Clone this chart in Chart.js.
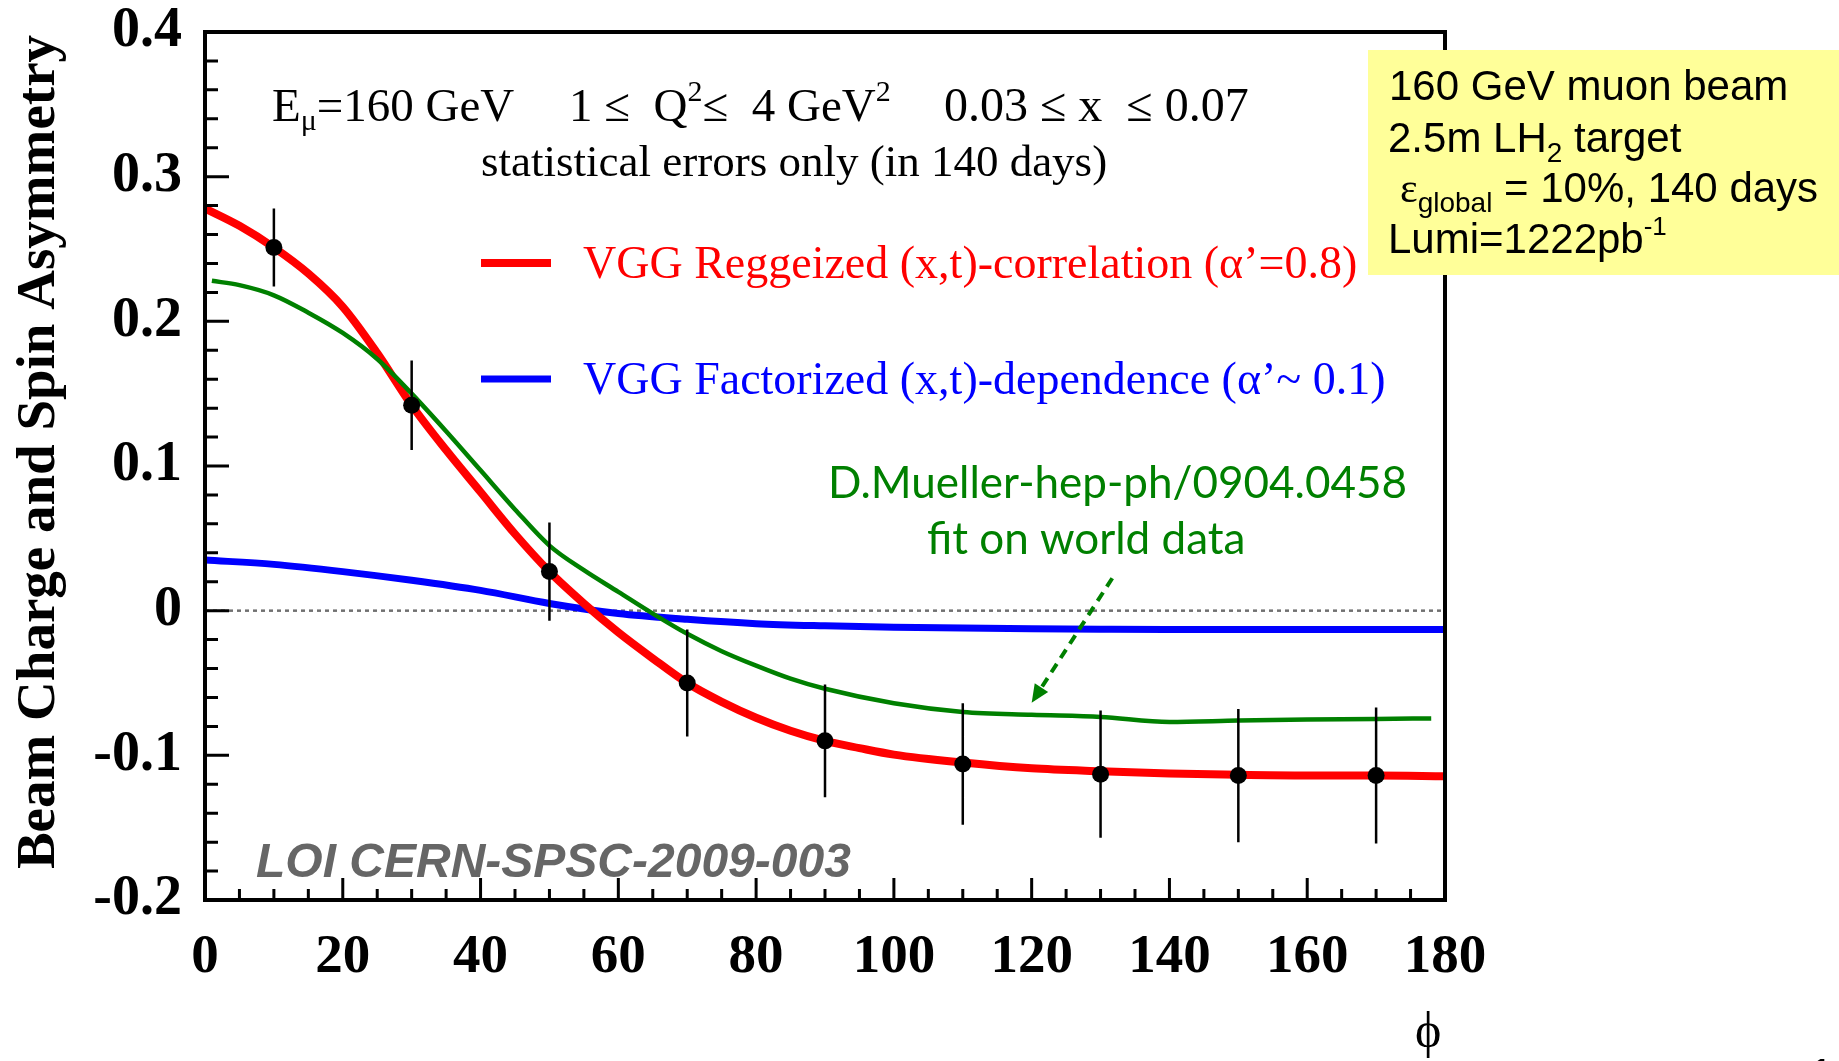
<!DOCTYPE html>
<html>
<head>
<meta charset="utf-8">
<title>Beam Charge and Spin Asymmetry</title>
<script src="https://cdn.jsdelivr.net/npm/chart.js@4.4.1/dist/chart.umd.min.js"></script>
<style>
  html, body { margin: 0; padding: 0; background: #fff; }
  #grafico { display: block; }
</style>
</head>
<body>
<canvas id="grafico" width="1839" height="1061"></canvas>
<script>
// Puntos simulados (errores estadisticos, 140 dias)
const phiPuntos = [10, 30, 50, 70, 90, 110, 130, 150, 170];
const asimPuntos = [0.251, 0.142, 0.027, -0.050, -0.090, -0.106, -0.113, -0.114, -0.114];
const errPuntos = [0.027, 0.031, 0.034, 0.037, 0.039, 0.042, 0.044, 0.046, 0.047];

// VGG Reggeized (x,t)-correlation (rojo)
const phiRegge = [0, 5, 10, 15, 20, 25, 30, 35, 40, 45, 50, 55, 60, 65, 70, 75, 80, 85, 90, 95, 100, 110, 120, 130, 140, 150, 160, 170, 180];
const asimRegge = [0.278, 0.266, 0.251, 0.233, 0.210, 0.178, 0.142, 0.111, 0.082, 0.053, 0.027, 0.005, -0.015, -0.033, -0.050, -0.063, -0.074, -0.083, -0.090, -0.095, -0.0995, -0.105, -0.109, -0.111, -0.1125, -0.1135, -0.114, -0.114, -0.1145];

// VGG Factorized (x,t)-dependence (azul)
const phiFact = [0, 10, 20, 30, 40, 50, 60, 70, 80, 90, 100, 110, 120, 130, 140, 150, 160, 170, 180];
const asimFact = [0.035, 0.032, 0.027, 0.021, 0.014, 0.005, -0.002, -0.006, -0.009, -0.0105, -0.0115, -0.012, -0.0125, -0.0128, -0.013, -0.013, -0.013, -0.013, -0.013];

// D.Mueller fit on world data (verde)
const phiMueller = [1, 5, 10, 15, 20, 25, 30, 35, 40, 45, 50, 55, 60, 65, 70, 75, 80, 85, 90, 100, 110, 120, 130, 140, 150, 160, 170, 178];
const asimMueller = [0.228, 0.225, 0.218, 0.206, 0.192, 0.174, 0.150, 0.124, 0.097, 0.070, 0.045, 0.028, 0.013, -0.002, -0.016, -0.028, -0.038, -0.047, -0.054, -0.064, -0.070, -0.072, -0.0735, -0.077, -0.076, -0.0753, -0.0748, -0.0745];

// Flecha verde (en coordenadas de datos)
const flechaDesde = [131.7, 0.0224];
const flechaHasta = [120.0, -0.0636];

const SERIF = '"Liberation Serif", "Times New Roman", serif';
const SANS = '"Liberation Sans", Arial, sans-serif';
const CALIBRI = 'Lato, "Open Sans", sans-serif';

function aPuntos(xs, ys) {
  return xs.map((v, i) => ({ x: v, y: ys[i] }));
}

// Dibuja una secuencia de trozos de texto (sub/superindices)
function dibujarTrozos(ctx, x, y, trozos, color) {
  ctx.fillStyle = color;
  ctx.textAlign = 'left';
  ctx.textBaseline = 'alphabetic';
  let cx = x;
  trozos.forEach(t => {
    ctx.font = t.font;
    ctx.fillText(t.t, cx, y + (t.dy || 0));
    cx += ctx.measureText(t.t).width;
  });
}

const decoraciones = {
  id: 'decoraciones',
  beforeDatasetsDraw(chart) {
    const { ctx, chartArea: a, scales: { y } } = chart;
    const y0 = y.getPixelForValue(0);
    ctx.save();
    ctx.strokeStyle = '#707070';
    ctx.lineWidth = 2.5;
    ctx.setLineDash([4, 4]);
    ctx.beginPath();
    ctx.moveTo(a.left, y0);
    ctx.lineTo(a.right, y0);
    ctx.stroke();
    ctx.restore();
  },
  afterDatasetsDraw(chart) {
    const { ctx, scales: { x, y } } = chart;
    ctx.save();
    ctx.strokeStyle = '#000';
    ctx.lineWidth = 2.5;
    ctx.beginPath();
    phiPuntos.forEach((p, i) => {
      const px = x.getPixelForValue(p);
      ctx.moveTo(px, y.getPixelForValue(asimPuntos[i] + errPuntos[i]));
      ctx.lineTo(px, y.getPixelForValue(asimPuntos[i] - errPuntos[i]));
    });
    ctx.stroke();

    // flecha discontinua verde
    const x1 = x.getPixelForValue(flechaDesde[0]), y1 = y.getPixelForValue(flechaDesde[1]);
    const x2 = x.getPixelForValue(flechaHasta[0]), y2 = y.getPixelForValue(flechaHasta[1]);
    const ang = Math.atan2(y2 - y1, x2 - x1);
    const largo = 18, ancho = 8;
    const bx = x2 - largo * Math.cos(ang), by = y2 - largo * Math.sin(ang);
    ctx.strokeStyle = '#008000';
    ctx.fillStyle = '#008000';
    ctx.lineWidth = 4;
    ctx.setLineDash([10, 7]);
    ctx.beginPath();
    ctx.moveTo(x1, y1);
    ctx.lineTo(bx, by);
    ctx.stroke();
    ctx.setLineDash([]);
    ctx.beginPath();
    ctx.moveTo(x2, y2);
    ctx.lineTo(bx + ancho * Math.sin(ang), by - ancho * Math.cos(ang));
    ctx.lineTo(bx - ancho * Math.sin(ang), by + ancho * Math.cos(ang));
    ctx.closePath();
    ctx.fill();
    ctx.restore();
  },
  afterDraw(chart) {
    const { ctx, chartArea: a, scales: { x, y } } = chart;
    ctx.save();

    // marcas hacia dentro (mayores y menores)
    ctx.strokeStyle = '#000';
    ctx.lineWidth = 3;
    ctx.beginPath();
    for (let i = 0; i <= 36; i++) {
      const px = x.getPixelForValue(i * 5);
      const l = i % 4 === 0 ? 22 : 11;
      ctx.moveTo(px, a.bottom);
      ctx.lineTo(px, a.bottom - l);
    }
    for (let j = 0; j <= 30; j++) {
      const py = y.getPixelForValue(-0.2 + j * 0.02);
      const l = j % 5 === 0 ? 24 : 13;
      ctx.moveTo(a.left, py);
      ctx.lineTo(a.left + l, py);
    }
    ctx.stroke();
    ctx.lineWidth = 4;
    ctx.strokeRect(a.left, a.top, a.right - a.left, a.bottom - a.top);

    // titulo del eje y
    ctx.save();
    ctx.translate(54, 452);
    ctx.rotate(-Math.PI / 2);
    ctx.fillStyle = '#000';
    ctx.font = 'bold 55px ' + SERIF;
    ctx.textAlign = 'center';
    ctx.textBaseline = 'alphabetic';
    ctx.fillText('Beam Charge and Spin Asymmetry', 0, 0);
    ctx.restore();

    // titulo del eje x
    ctx.fillStyle = '#000';
    ctx.font = '50px ' + SERIF;
    ctx.textAlign = 'left';
    ctx.fillText('\u03D5', 1415, 1047);

    // cabecera
    const f47 = '47px ' + SERIF, f46 = '46px ' + SERIF, f30 = '30px ' + SERIF;
    dibujarTrozos(ctx, 272, 121, [
      { t: 'E', font: f47 }, { t: '\u03BC', font: f30, dy: 9 }, { t: '=160 GeV', font: f47 }
    ], '#000');
    dibujarTrozos(ctx, 569, 121, [
      { t: '1 \u2264  Q', font: f47 }, { t: '2', font: f30, dy: -20 },
      { t: '\u2264  4 GeV', font: f47 }, { t: '2', font: f30, dy: -20 }
    ], '#000');
    dibujarTrozos(ctx, 944, 121, [{ t: '0.03 \u2264 x  \u2264 0.07', font: '48px ' + SERIF }], '#000');
    dibujarTrozos(ctx, 481, 176, [{ t: 'statistical errors only (in 140 days)', font: '45px ' + SERIF }], '#000');

    // leyenda
    ctx.lineWidth = 8;
    ctx.strokeStyle = '#ff0000';
    ctx.beginPath(); ctx.moveTo(481, 263); ctx.lineTo(551, 263); ctx.stroke();
    ctx.lineWidth = 7;
    ctx.strokeStyle = '#0000ff';
    ctx.beginPath(); ctx.moveTo(481, 379); ctx.lineTo(551, 379); ctx.stroke();
    dibujarTrozos(ctx, 583, 278, [{ t: 'VGG Reggeized (x,t)-correlation (\u03B1\u2019=0.8)', font: f46 }], '#ff0000');
    dibujarTrozos(ctx, 583, 394, [{ t: 'VGG Factorized (x,t)-dependence (\u03B1\u2019~ 0.1)', font: f46 }], '#0000ff');

    // nota verde
    dibujarTrozos(ctx, 828, 498, [{ t: 'D.Mueller-hep-ph/0904.0458', font: '44px ' + CALIBRI }], '#008000');
    dibujarTrozos(ctx, 927, 554, [{ t: 'fit on world data', font: '44px ' + CALIBRI }], '#008000');

    // referencia LOI
    dibujarTrozos(ctx, 256, 877, [{ t: 'LOI CERN-SPSC-2009-003', font: 'italic bold 48px ' + SANS }], '#666666');

    // caja amarilla
    ctx.fillStyle = '#ffff99';
    ctx.fillRect(1368, 50, 471, 225);
    const s42 = '42px ' + SANS, s28 = '28px ' + SANS;
    dibujarTrozos(ctx, 1389, 100, [{ t: '160 GeV muon beam', font: s42 }], '#000');
    dibujarTrozos(ctx, 1388, 152, [
      { t: '2.5m LH', font: s42 }, { t: '2', font: s28, dy: 10 }, { t: ' target', font: s42 }
    ], '#000');
    dibujarTrozos(ctx, 1400, 202, [
      { t: '\u03B5', font: '42px ' + SERIF }, { t: 'global', font: s28, dy: 10 },
      { t: ' = 10%, 140 days', font: s42 }
    ], '#000');
    dibujarTrozos(ctx, 1388, 253, [
      { t: 'Lumi=1222pb', font: s42 }, { t: '-1', font: '26px ' + SANS, dy: -18 }
    ], '#000');

    // numero de pagina (cortado)
    dibujarTrozos(ctx, 1808, 1092, [{ t: '1', font: '48px ' + SANS }], '#000');
    ctx.restore();
  }
};

const grafico = new Chart(document.getElementById('grafico'), {
  type: 'line',
  data: {
    datasets: [
      {
        type: 'scatter',
        data: aPuntos(phiPuntos, asimPuntos),
        backgroundColor: '#000',
        borderColor: '#000',
        borderWidth: 0,
        pointRadius: 8.5
      },
      {
        data: aPuntos(phiMueller, asimMueller),
        borderColor: '#008000',
        borderWidth: 4.5,
        pointRadius: 0,
        cubicInterpolationMode: 'monotone',
        fill: false
      },
      {
        data: aPuntos(phiRegge, asimRegge),
        borderColor: '#ff0000',
        borderWidth: 8,
        pointRadius: 0,
        cubicInterpolationMode: 'monotone',
        fill: false
      },
      {
        data: aPuntos(phiFact, asimFact),
        borderColor: '#0000ff',
        borderWidth: 7,
        pointRadius: 0,
        cubicInterpolationMode: 'monotone',
        fill: false
      }
    ]
  },
  options: {
    responsive: false,
    animation: false,
    layout: { padding: { top: 32, right: 394, bottom: 0, left: 0 } },
    plugins: { legend: { display: false }, tooltip: { enabled: false } },
    scales: {
      x: {
        type: 'linear',
        min: 0,
        max: 180,
        grid: { display: false },
        border: { display: false },
        ticks: {
          stepSize: 20,
          autoSkip: false,
          maxRotation: 0,
          padding: 22,
          color: '#000',
          font: { family: SERIF, size: 55, weight: 'bold', lineHeight: 1 }
        },
        afterFit: function (s) {
          s.height = 161;
          s.paddingLeft = 0;
          s.paddingRight = 0;
        }
      },
      y: {
        min: -0.2,
        max: 0.4,
        grid: { display: false },
        border: { display: false },
        ticks: {
          stepSize: 0.1,
          padding: 15,
          color: '#000',
          font: { family: SERIF, size: 56, weight: 'bold', lineHeight: 1 },
          callback: function (v) {
            return Math.abs(v) < 1e-9 ? '0' : v.toFixed(1);
          }
        },
        afterFit: function (s) {
          s.width = 205;
          s.paddingTop = 0;
          s.paddingBottom = 0;
        }
      }
    }
  },
  plugins: [decoraciones]
});
</script>
</body>
</html>
